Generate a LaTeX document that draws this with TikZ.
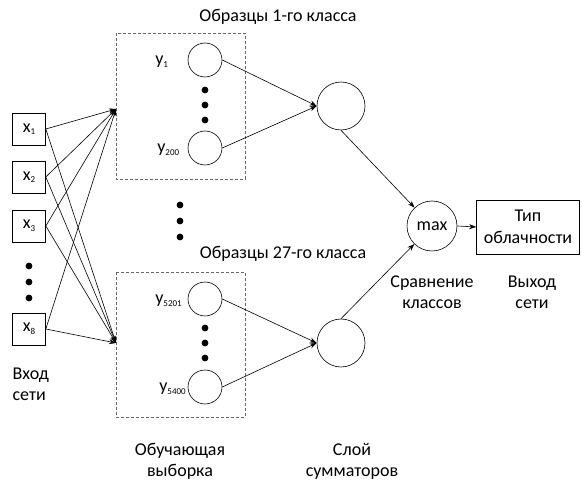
\documentclass[tikz,border=0pt]{standalone}
\usepackage{fontspec}
\setmainfont{Carlito}
\usetikzlibrary{arrows.meta}
\usetikzlibrary{positioning}

\newcommand{\lowidx}[1]{\raisebox{-0.3ex}{\fontsize{9}{9}\selectfont #1}}

\begin{document}
\begin{tikzpicture}[->,>={Stealth[length=7pt,width=5pt]},x=1pt,y=-1pt,line width=0.6pt]
	\tikzset{inbox/.style = {shape=rectangle, draw, minimum width=33pt, minimum height=32pt, inner sep=0pt, font=\fontsize{18}{18}\selectfont},
		neuron/.style = {shape=circle, draw, minimum size=34pt, inner sep=0pt},
		summ/.style = {shape=circle, draw, minimum size=48pt, inner sep=0pt},
		dashbox/.style = {draw=black!60, dashed, dash pattern=on 3pt off 2pt},
		txt/.style = {align=center, font=\fontsize{18}{21}\selectfont},
		ylab/.style = {anchor=west, inner sep=0pt, font=\fontsize{18}{18}\selectfont}}
	\useasboundingbox (0,0) rectangle (582,481);
	
	% input layer
	\node[inbox] (X1) at (29,129) {x\lowidx{1}};
	\node[inbox] (X2) at (29,177) {x\lowidx{2}};
	\node[inbox] (X3) at (29,226) {x\lowidx{3}};
	\node[inbox] (X8) at (29,329) {x\lowidx{8}};
	\foreach \y in {266,282,298} \fill (29,\y) circle (3.4pt);
	
	% training samples
	\draw[-, dashbox] (116,33) rectangle (245,179);
	\draw[-, dashbox] (116,272) rectangle (245,417);
	\node[neuron] (Y1) at (205,60) {};
	\node[neuron] (Y200) at (205,148) {};
	\node[neuron] (Y5201) at (205,299) {};
	\node[neuron] (Y5400) at (205,387) {};
	\node[ylab] (LY1) at (155,62) {y\lowidx{1}};
	\node[ylab] (LY200) at (157,150) {y\lowidx{200}};
	\node[ylab] (LY5201) at (155,301) {y\lowidx{5201}};
	\node[ylab] (LY5400) at (159,389) {y\lowidx{5400}};
	\foreach \y in {90,105,120,328,343,358} \fill (205,\y) circle (3.4pt);
	\foreach \y in {205,221,237} \fill (180,\y) circle (3.4pt);
	
	\coordinate (INA) at (116,109);
	\coordinate (INB) at (116,343);
	\foreach \n in {X1,X2,X3,X8} {
		\draw (\n.east) -- (INA);
		\draw (\n.east) -- (INB);
	}
	
	% summators, comparison, output
	\node[summ] (SUM1) at (341,106) {};
	\node[summ] (SUM27) at (341,343) {};
	\node[summ, minimum size=50pt, font=\fontsize{18}{18}\selectfont] (MAX) at (432,226) {max};
	\node[shape=rectangle, draw, minimum width=103pt, minimum height=54pt, txt, font=\fontsize{18}{22}\selectfont] (OUT) at (528,227) {Тип\\облачности};
	
	\draw (Y1.east) -- (SUM1.west);
	\draw (Y200.east) -- (SUM1.west);
	\draw (Y5201.east) -- (SUM27.west);
	\draw (Y5400.east) -- (SUM27.west);
	\draw (SUM1.south) -- (MAX);
	\draw (SUM27.north) -- (MAX);
	\draw (MAX.east) -- (OUT.west);
	
	% captions
	\node[txt] (T1) at (278,17) {Образцы 1-го класса};
	\node[txt] (T27) at (283,254) {Образцы 27-го класса};
	\node[txt, align=left, anchor=west] (TIN) at (9,384) {Вход\\сети};
	\node[txt] (TTRAIN) at (180,461) {Обучающая\\выборка};
	\node[txt] (TSUM) at (352,461) {Слой\\сумматоров};
	\node[txt] (TCMP) at (432,292) {Сравнение\\классов};
	\node[txt] (TOUT) at (532,292) {Выход\\сети};
\end{tikzpicture}
\end{document}
